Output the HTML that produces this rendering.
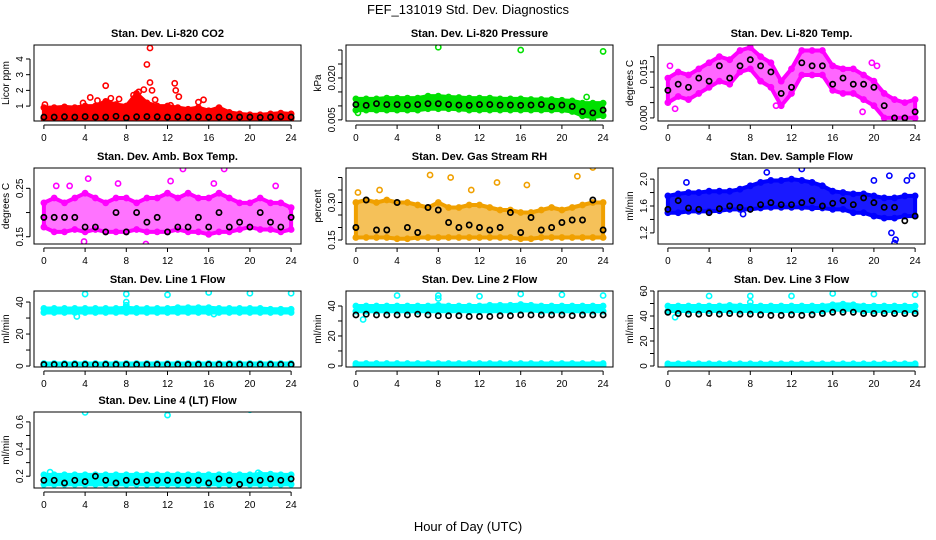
<!DOCTYPE html>
<html><head><meta charset="utf-8"><style>
html,body{margin:0;padding:0;background:#fff;}
svg{display:block;font-family:"Liberation Sans",sans-serif;}
</style></head><body>
<svg id="chart" width="936" height="540" viewBox="0 0 936 540" xmlns="http://www.w3.org/2000/svg">
<text x="468" y="14" font-size="13" text-anchor="middle">FEF_131019  Std. Dev. Diagnostics</text>
<text x="468" y="531" font-size="13" text-anchor="middle">Hour of Day (UTC)</text>
<g id="plots"></g>
</svg>
<script>
const hours=[0,1,2,3,4,5,6,7,8,9,10,11,12,13,14,15,16,17,18,19,20,21,22,23,24];
const xTicks=[0,4,8,12,16,20,24];
// Panel 1 CO2
const co2Lo=[0.2,0.2,0.2,0.2,0.2,0.2,0.2,0.2,0.2,0.2,0.2,0.2,0.2,0.2,0.2,0.2,0.2,0.2,0.2,0.2,0.2,0.2,0.2,0.2,0.2];
const co2Hi=[0.9,0.9,0.95,0.9,1.0,1.0,1.3,1.1,1.0,1.8,1.2,1.0,1.0,0.9,0.8,0.9,0.7,0.9,0.6,0.5,0.45,0.45,0.5,0.55,0.5];
const co2Blk=[0.3,0.3,0.32,0.3,0.33,0.3,0.3,0.35,0.25,0.32,0.33,0.32,0.3,0.32,0.3,0.32,0.3,0.3,0.32,0.3,0.3,0.28,0.3,0.32,0.3];
const co2OutX=[0.1,3.8,4.5,5.2,6,6.5,7.3,8.7,9.2,9.7,10,10.3,10.3,10.5,10.8,12.7,12.8,13.1,15,15.5,12.3];
const co2OutY=[1.1,1.2,1.55,1.35,2.3,1.5,1.45,1.7,1.9,2.05,3.65,4.7,2.5,2.0,1.4,2.45,2.0,1.6,1.25,1.4,1.05];
// Panel 2 pressure
const prsLo=[0.0085,0.0085,0.0085,0.0085,0.0085,0.0085,0.0085,0.009,0.009,0.009,0.0088,0.0085,0.0085,0.0085,0.0085,0.0085,0.0085,0.0085,0.0085,0.0085,0.0085,0.008,0.0065,0.006,0.0065];
const prsHi=[0.0125,0.0125,0.0125,0.0128,0.0128,0.0128,0.0128,0.0135,0.0135,0.0132,0.013,0.0128,0.0128,0.0128,0.0125,0.0125,0.0125,0.0123,0.0123,0.0123,0.012,0.0118,0.011,0.011,0.011];
const prsBlk=[0.0105,0.0102,0.0108,0.0105,0.0105,0.0103,0.0105,0.0108,0.0108,0.0105,0.0103,0.0102,0.0105,0.0105,0.0103,0.0103,0.0102,0.0103,0.0105,0.0098,0.0103,0.0098,0.008,0.0075,0.0085];
const prsOutX=[8,16,24,0.2,23,22.4];
const prsOutY=[0.031,0.030,0.0295,0.0075,0.005,0.0132];
// Panel 3 Li-820 temp
const tmpLo=[0.005,0.007,0.006,0.008,0.010,0.012,0.011,0.015,0.016,0.012,0.010,0.004,0.008,0.014,0.014,0.014,0.009,0.008,0.008,0.006,0.004,0.000,0.000,0.000,0.000];
const tmpHi=[0.013,0.015,0.014,0.016,0.018,0.020,0.019,0.022,0.023,0.020,0.018,0.012,0.016,0.022,0.022,0.022,0.017,0.016,0.016,0.014,0.012,0.008,0.006,0.005,0.006];
const tmpBlk=[0.009,0.011,0.010,0.013,0.012,0.017,0.013,0.017,0.019,0.017,0.015,0.008,0.010,0.018,0.017,0.017,0.011,0.013,0.011,0.011,0.010,0.004,0.000,0.000,0.002];
const tmpOutX=[0.2,0.7,10.5,19.8,20.3,18.9];
const tmpOutY=[0.017,0.003,0.004,0.018,0.017,0.002];
// Panel 4 amb box temp
const ambLo=[0.17,0.16,0.16,0.165,0.16,0.165,0.16,0.16,0.16,0.165,0.16,0.16,0.16,0.165,0.16,0.16,0.155,0.16,0.16,0.165,0.17,0.165,0.165,0.16,0.165];
const ambHi=[0.22,0.23,0.22,0.23,0.24,0.23,0.22,0.23,0.23,0.22,0.23,0.23,0.24,0.23,0.24,0.23,0.23,0.24,0.23,0.22,0.22,0.23,0.22,0.22,0.21];
const ambBlk=[0.19,0.19,0.19,0.19,0.17,0.17,0.16,0.2,0.16,0.2,0.18,0.19,0.16,0.17,0.17,0.19,0.17,0.2,0.17,0.18,0.17,0.2,0.18,0.17,0.19];
const ambOutX=[1.2,2.5,4.3,13.5,17.5,16.5,12.3,22.5,3.9,9.9,7.2];
const ambOutY=[0.255,0.255,0.27,0.29,0.29,0.26,0.265,0.255,0.14,0.135,0.26];
// Panel 5 RH
const rhLo=[0.16,0.16,0.16,0.16,0.155,0.155,0.16,0.16,0.16,0.16,0.16,0.16,0.16,0.16,0.16,0.16,0.155,0.155,0.16,0.16,0.16,0.16,0.16,0.16,0.16];
const rhHi=[0.3,0.31,0.3,0.31,0.3,0.3,0.29,0.28,0.3,0.28,0.28,0.29,0.29,0.28,0.27,0.27,0.26,0.26,0.27,0.28,0.27,0.28,0.29,0.3,0.3];
const rhBlk=[0.2,0.31,0.19,0.19,0.3,0.2,0.18,0.28,0.27,0.22,0.2,0.21,0.2,0.19,0.2,0.26,0.18,0.24,0.19,0.2,0.22,0.23,0.23,0.31,0.19];
const rhOutX=[7.2,9.2,13.7,16.6,21.5,23,2.3,11.2,0.2];
const rhOutY=[0.41,0.40,0.38,0.37,0.405,0.44,0.35,0.35,0.34];
// Panel 6 sample flow
const sfLo=[1.5,1.5,1.52,1.52,1.52,1.53,1.55,1.55,1.55,1.57,1.58,1.58,1.58,1.58,1.57,1.57,1.55,1.55,1.5,1.5,1.45,1.42,1.42,1.45,1.45];
const sfHi=[1.75,1.78,1.8,1.8,1.82,1.82,1.82,1.85,1.9,1.95,1.98,1.98,2.0,1.98,1.95,1.9,1.82,1.8,1.78,1.78,1.75,1.72,1.72,1.75,1.75];
const sfBlk=[1.55,1.68,1.57,1.55,1.5,1.56,1.6,1.58,1.55,1.62,1.65,1.62,1.62,1.65,1.68,1.6,1.64,1.68,1.62,1.72,1.65,1.58,1.58,1.38,1.45];
const sfOutX=[20,21.5,22,22.1,21.7,23.2,23.7,13,9.6,1.8,7.3];
const sfOutY=[1.98,2.05,1.05,1.1,1.2,1.98,2.05,2.15,2.1,1.95,1.48];
// Panel 7 line 1
const l1Lo=[33.5,33.5,33.5,33.5,33.5,33.5,33.5,33.5,33.5,33.5,33.5,33.5,33.5,33.5,33.5,33.5,33.5,33.5,33.5,33.5,33.5,33.5,33.5,33.5,33.5];
const l1Hi=[36,36,36,36,36,36,36,36,36.5,36,36,36,36,36.5,36.5,36.5,36.5,36,36,36,36,36,35.5,35.5,35.5];
const l1ZLo=[0.3,0.3,0.3,0.3,0.3,0.3,0.3,0.3,0.3,0.3,0.3,0.3,0.3,0.3,0.3,0.3,0.3,0.3,0.3,0.3,0.3,0.3,0.3,0.3,0.3];
const l1ZHi=[1.6,1.6,1.6,1.6,1.6,1.6,1.6,1.6,1.6,1.6,1.6,1.6,1.6,1.6,1.6,1.6,1.6,1.6,1.6,1.6,1.6,1.6,1.6,1.6,1.6];
const l1Blk=[1,1,1,1,1,1,1,1,1,1,1,1,1,1,1,1,1,1,1,1,1,1,1,1,1];
const l1OutX=[4,8,12,16,20,24,8,8,3.2,16.5];
const l1OutY=[45,45,44.5,46,45.5,45.5,40,38,31,32.5];
// Panel 8 line 2
const l2Lo=[36.5,36.5,36.5,36.5,36.5,36.5,36.5,36.5,36.5,36.5,36.5,36.5,36.5,36.5,36.5,36.5,37,37,36.5,36.5,36.5,36.5,36.5,36.5,36.5];
const l2Hi=[40,40,40,40,40,40,40,40,40.5,40,40,40,40,40.5,40.5,40.5,41,40.5,40,40,40,40,40,40,40];
const l2ZLo=[0.3,0.3,0.3,0.3,0.3,0.3,0.3,0.3,0.3,0.3,0.3,0.3,0.3,0.3,0.3,0.3,0.3,0.3,0.3,0.3,0.3,0.3,0.3,0.3,0.3];
const l2ZHi=[1.6,1.6,1.6,1.6,1.6,1.6,1.6,1.6,1.6,1.6,1.6,1.6,1.6,1.6,1.6,1.6,1.6,1.6,1.6,1.6,1.6,1.6,1.6,1.6,1.6];
const l2Blk=[34,34.5,34,34,34,34,34.5,34,33.5,33.5,33.5,33,33,33,33.5,33.5,34,34,34,34,34,33.5,34,34,34];
const l2OutX=[4,8,8,12,16,20,24,0.7];
const l2OutY=[47,47,45,46.5,48,47.5,47,31];
// Panel 9 line 3
const l3Lo=[44,44,44,44,44,44,44,44,44,44,44,44,44,44,44,44,45,45,45,44,44,44,44,44,44];
const l3Hi=[48,48,48,48,48,48,48.5,48,48,48,48,48,48,48,48,48,49,49.5,49,48,48,48,48,48,48];
const l3ZLo=[0.3,0.3,0.3,0.3,0.3,0.3,0.3,0.3,0.3,0.3,0.3,0.3,0.3,0.3,0.3,0.3,0.3,0.3,0.3,0.3,0.3,0.3,0.3,0.3,0.3];
const l3ZHi=[1.8,1.8,1.8,1.8,1.8,1.8,1.8,1.8,1.8,1.8,1.8,1.8,1.8,1.8,1.8,1.8,1.8,1.8,1.8,1.8,1.8,1.8,1.8,1.8,1.8];
const l3Blk=[43,42,41.5,41.5,42,41.5,42,41.5,41.5,41,40.5,40.5,41,40.5,41,42,43,43,43,42,42,42,42,42,42];
const l3OutX=[4,8,8,12,16,20,24,0.7];
const l3OutY=[56,56,51,56,58,57.5,57,39];
// Panel 10 line 4
const l4Lo=[0.14,0.14,0.14,0.14,0.14,0.14,0.14,0.14,0.14,0.14,0.14,0.14,0.14,0.14,0.14,0.14,0.14,0.14,0.14,0.14,0.14,0.14,0.14,0.14,0.14];
const l4Hi=[0.21,0.21,0.21,0.21,0.21,0.21,0.21,0.21,0.21,0.21,0.21,0.21,0.21,0.21,0.21,0.21,0.21,0.21,0.21,0.21,0.21,0.215,0.215,0.21,0.21];
const l4Blk=[0.17,0.17,0.15,0.17,0.16,0.2,0.17,0.15,0.17,0.16,0.17,0.17,0.17,0.17,0.17,0.17,0.15,0.18,0.17,0.14,0.17,0.17,0.18,0.17,0.18];
const l4OutX=[4,12,20,0.6,20.8];
const l4OutY=[0.67,0.65,0.69,0.23,0.225];

const panels=[
 {name:'co2',col:0,row:0,title:'Stan. Dev. Li-820 CO2',ylab:'Licor ppm',ylim:[0.05,4.89],ticks:[1,2,3,4],tl:['1','2','3','4'],color:'#ff0000',fo:1,bands:[[co2Lo,co2Hi]],blk:co2Blk,ox:co2OutX,oy:co2OutY},
 {name:'pressure',col:1,row:0,title:'Stan. Dev. Li-820 Pressure',ylab:'kPa',ylim:[0.0046,0.0318],ticks:[0.005,0.010,0.015,0.020,0.025,0.030],tl:['0.005','','','0.020','',''],color:'#00e000',fo:1,bands:[[prsLo,prsHi]],blk:prsBlk,ox:prsOutX,oy:prsOutY},
 {name:'li820-temp',col:2,row:0,title:'Stan. Dev. Li-820 Temp.',ylab:'degrees C',ylim:[-0.001,0.0238],ticks:[0,0.005,0.010,0.015,0.020],tl:['0.000','','','0.015',''],color:'#ff00ff',fo:0.6,bands:[[tmpLo,tmpHi]],blk:tmpBlk,ox:tmpOutX,oy:tmpOutY},
 {name:'amb-box-temp',col:0,row:1,title:'Stan. Dev. Amb. Box Temp.',ylab:'degrees C',ylim:[0.135,0.292],ticks:[0.15,0.20,0.25],tl:['0.15','','0.25'],color:'#ff00ff',fo:0.55,bands:[[ambLo,ambHi]],blk:ambBlk,ox:ambOutX,oy:ambOutY},
 {name:'gas-stream-rh',col:1,row:1,title:'Stan. Dev. Gas Stream RH',ylab:'percent',ylim:[0.134,0.438],ticks:[0.15,0.20,0.25,0.30,0.35,0.40],tl:['0.15','','','0.30','',''],color:'#f0a000',fo:0.65,bands:[[rhLo,rhHi]],blk:rhBlk,ox:rhOutX,oy:rhOutY},
 {name:'sample-flow',col:2,row:1,title:'Stan. Dev. Sample Flow',ylab:'ml/min',ylim:[1.035,2.165],ticks:[1.2,1.4,1.6,1.8,2.0],tl:['1.2','','1.6','','2.0'],color:'#0000ff',fo:0.9,bands:[[sfLo,sfHi]],blk:sfBlk,ox:sfOutX,oy:sfOutY},
 {name:'line1-flow',col:0,row:2,title:'Stan. Dev. Line 1 Flow',ylab:'ml/min',ylim:[-0.6,46.9],ticks:[0,10,20,30,40],tl:['0','','20','','40'],color:'#00ffff',fo:1,bands:[[l1Lo,l1Hi],[l1ZLo,l1ZHi]],blk:l1Blk,ox:l1OutX,oy:l1OutY},
 {name:'line2-flow',col:1,row:2,title:'Stan. Dev. Line 2 Flow',ylab:'ml/min',ylim:[-0.7,50],ticks:[0,10,20,30,40],tl:['0','','20','','40'],color:'#00ffff',fo:1,bands:[[l2Lo,l2Hi],[l2ZLo,l2ZHi]],blk:l2Blk,ox:l2OutX,oy:l2OutY},
 {name:'line3-flow',col:2,row:2,title:'Stan. Dev. Line 3 Flow',ylab:'ml/min',ylim:[-0.8,60],ticks:[0,10,20,30,40,50,60],tl:['0','','20','','40','','60'],color:'#00ffff',fo:1,bands:[[l3Lo,l3Hi],[l3ZLo,l3ZHi]],blk:l3Blk,ox:l3OutX,oy:l3OutY},
 {name:'line4-flow',col:0,row:3,title:'Stan. Dev. Line 4 (LT) Flow',ylab:'ml/min',ylim:[0.113,0.673],ticks:[0.2,0.3,0.4,0.5,0.6],tl:['0.2','','0.4','','0.6'],color:'#00ffff',fo:1,bands:[[l4Lo,l4Hi]],blk:l4Blk,ox:l4OutX,oy:l4OutY}
];
const NS='http://www.w3.org/2000/svg';
const colLeft=[34,346,658], rowTop=[45,168,291,412], W=267, Hh=76;
const root=document.getElementById('plots');
function mk(tag,attrs,parent){const e=document.createElementNS(NS,tag);for(const k in attrs)e.setAttribute(k,attrs[k]);parent.appendChild(e);return e;}
panels.forEach(p=>{
  const L=colLeft[p.col],T=rowTop[p.row];
  const xs=h=>L+(h+0.96)/25.92*W;
  const ys=v=>T+Hh-(v-p.ylim[0])/(p.ylim[1]-p.ylim[0])*Hh;
  const g=mk('g',{},root);
  
  
  const clip='clip-'+p.name;
  const cp=mk('clipPath',{id:clip},g);mk('rect',{x:L,y:T,width:W,height:Hh},cp);
  const dg=mk('g',{'clip-path':'url(#'+clip+')'},g);
  p.bands.forEach((b,bi)=>{
    const lo=b[0],hi=b[1];
    let pts=hours.map((h,i)=>xs(h)+','+ys(hi[i]));
    pts=pts.concat(hours.map((h,i)=>xs(h)+','+ys(lo[i])).reverse());
    const poly=mk('polygon',{points:pts.join(' '),fill:p.color,'fill-opacity':p.fo,stroke:p.color,'stroke-width':4,'stroke-linejoin':'round'},dg);
    
    
    hours.forEach((h,i)=>{
      [lo[i],hi[i]].forEach(v=>{
        const c=mk('circle',{cx:xs(h),cy:ys(v),r:2.6,fill:'none',stroke:p.color,'stroke-width':1.6},dg);
        
        
      });
    });
  });
  p.ox.forEach((x,i)=>{
    const c=mk('circle',{cx:xs(x),cy:ys(p.oy[i]),r:2.6,fill:'none',stroke:p.color,'stroke-width':1.6},dg);
    
    
  });
  hours.forEach((h,i)=>{
    const c=mk('circle',{cx:xs(h),cy:ys(p.blk[i]),r:2.6,fill:'none',stroke:'#000','stroke-width':1.7},dg);
    
    
  });
  const box=mk('rect',{x:L,y:T,width:W,height:Hh,fill:'none',stroke:'#000','stroke-width':1},g);
  
  
  const t=mk('text',{x:L+W/2,y:T-8,'font-size':11,'font-weight':'bold','text-anchor':'middle'},g);
  t.textContent=p.title;
  
  
  const yl=mk('text',{x:0,y:0,'font-size':10,'text-anchor':'middle',transform:'translate('+(L-25)+','+(T+Hh/2)+') rotate(-90)'},g);
  yl.textContent=p.ylab;
  
  
  const xa=mk('g',{},g);
  
  
  mk('line',{x1:xs(0),x2:xs(24),y1:T+Hh+4,y2:T+Hh+4,stroke:'#000'},xa);
  xTicks.forEach(v=>{
    mk('line',{x1:xs(v),x2:xs(v),y1:T+Hh+4,y2:T+Hh+8,stroke:'#000'},xa);
    const tx=mk('text',{x:xs(v),y:T+Hh+20,'font-size':10,'text-anchor':'middle'},xa);
    tx.textContent=String(v);
    
    
  });
  const ya=mk('g',{},g);
  
  
  const tv=p.ticks;
  mk('line',{x1:L-4,x2:L-4,y1:ys(tv[0]),y2:ys(tv[tv.length-1]),stroke:'#000'},ya);
  tv.forEach((v,i)=>{
    mk('line',{x1:L-8,x2:L-4,y1:ys(v),y2:ys(v),stroke:'#000'},ya);
    if(p.tl[i]){
      const ty=mk('text',{x:0,y:0,'font-size':10,'text-anchor':'middle',transform:'translate('+(L-11)+','+ys(v)+') rotate(-90)'},ya);
      ty.textContent=p.tl[i];
      
      
    }
  });
});
</script>
</body></html>
